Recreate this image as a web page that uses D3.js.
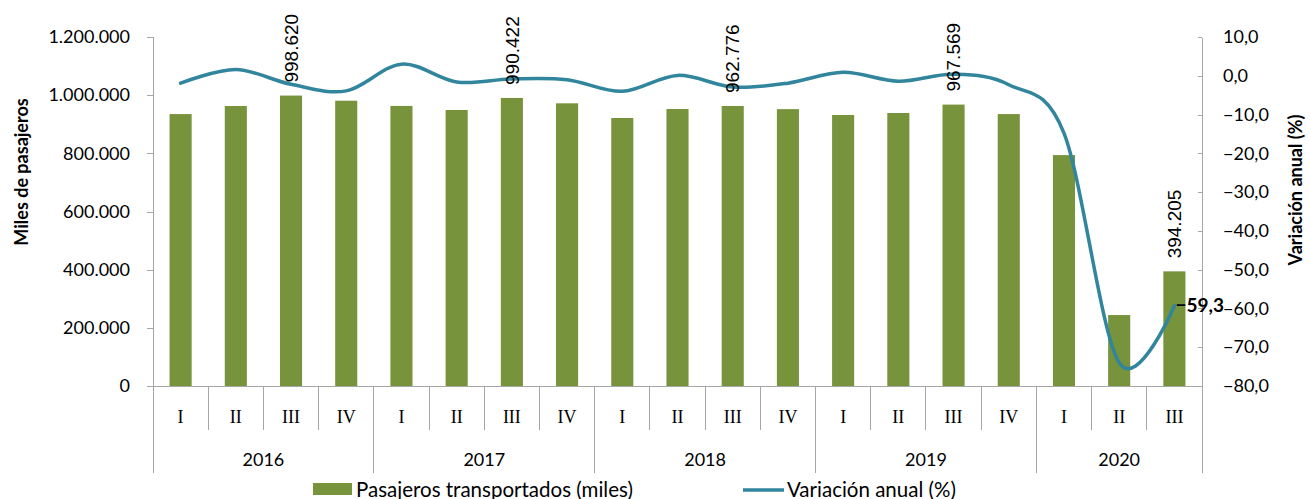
<!DOCTYPE html>
<meta charset="utf-8">
<style>
body { margin: 0; background: #fff; }
svg { display: block; }
.num { font-family: Lato, "Open Sans", sans-serif; font-size: 18px; fill: #000; }
.leyenda { font-family: Lato, "Open Sans", sans-serif; font-size: 20.5px; fill: #000; }
.trim { font-family: "Liberation Serif", serif; font-size: 18px; fill: #000; }
.titulo { font-family: Lato, sans-serif; font-size: 18px; font-weight: bold; fill: #000; }
.etiqueta { font-family: "Liberation Sans", sans-serif; font-size: 19px; fill: #000; }
.eje { stroke: #a6a6a6; stroke-width: 1; shape-rendering: crispEdges; }
</style>
<svg width="1310" height="499"></svg>
<script src="https://cdnjs.cloudflare.com/ajax/libs/d3/7.8.5/d3.min.js"></script>
<script>

// trimestres y años
var trimestres = ["I","II","III","IV","I","II","III","IV","I","II","III","IV","I","II","III","IV","I","II","III"];
var anios = ["2016","2017","2018","2019","2020"];
var trimPorAnio = [4, 4, 4, 4, 3];

// pasajeros transportados (miles)
var pasajeros = [935000, 962700, 998620, 981000, 963000, 949000, 990422, 972000, 921500, 952400,
                 962776, 952000, 931800, 938700, 967569, 935000, 794000, 244000, 394205];
// variación anual (%)
var variacion = [-1.9, 1.6, -2.2, -3.9, 3.0, -1.6, -0.8, -1.0, -4.0, 0.1,
                 -2.9, -1.9, 0.9, -1.4, 0.4, -2.3, -14.8, -74.0, -59.3];
// trimestres con etiqueta de valor
var conEtiqueta = [2, 6, 10, 14, 18];

var ticksIzq = [0, 200000, 400000, 600000, 800000, 1000000, 1200000];
var ticksDer = [10, 0, -10, -20, -30, -40, -50, -60, -70, -80];

var svg = d3.select("svg");
var x0 = 153, x1 = 1202, yTop = 37, yBase = 386;

var x = d3.scaleBand()
    .domain(d3.range(trimestres.length))
    .range([x0, x1])
    .paddingInner(0.6)
    .paddingOuter(0.3);
var xb = d3.scaleBand().domain(d3.range(trimestres.length)).range([x0, x1]);

var y = d3.scaleLinear().domain([0, 1200000]).range([yBase, yTop]);
var y2 = d3.scaleLinear().domain([-80, 10]).range([yBase, yTop]);

var loc = d3.formatLocale({decimal: ",", thousands: ".", grouping: [3], currency: ["", ""]});
var fmtN = loc.format(",.0f");
var fmtP = loc.format(",.1f");

// barras
svg.append("g").selectAll("rect")
    .data(pasajeros)
  .enter().append("rect")
    .attr("x", function(d, i) { return x(i); })
    .attr("width", x.bandwidth())
    .attr("y", function(d) { return y(d); })
    .attr("height", function(d) { return yBase - y(d); })
    .attr("fill", "#77933c");

// ejes
var gIzq = svg.append("g").attr("transform", "translate(" + x0 + ",0)")
    .call(d3.axisLeft(y).tickValues(ticksIzq).tickSize(6).tickPadding(17).tickFormat(fmtN));
gIzq.selectAll("text").attr("class", "num");

var gDer = svg.append("g").attr("transform", "translate(" + x1 + ",0)")
    .call(d3.axisRight(y2).tickValues(ticksDer).tickSizeInner(-4).tickSizeOuter(0).tickPadding(21).tickFormat(fmtP));
gDer.selectAll("text").attr("class", "num");

svg.selectAll(".domain, .tick line").attr("class", "eje").attr("fill", "none");

// eje x
svg.append("line").attr("class", "eje")
    .attr("x1", x0).attr("x2", x1).attr("y1", yBase).attr("y2", yBase);

var limites = [0];
trimPorAnio.forEach(function(n) { limites.push(limites[limites.length - 1] + n); });

svg.append("g").selectAll("line")
    .data(d3.range(trimestres.length + 1))
  .enter().append("line")
    .attr("class", "eje")
    .attr("x1", function(i) { return i < trimestres.length ? xb(i) : x1; })
    .attr("x2", function(i) { return i < trimestres.length ? xb(i) : x1; })
    .attr("y1", yBase)
    .attr("y2", function(i) { return limites.indexOf(i) >= 0 ? 473 : 430; });

svg.append("g").selectAll("text")
    .data(trimestres)
  .enter().append("text")
    .attr("class", "trim")
    .attr("x", function(d, i) { return xb(i) + xb.bandwidth() / 2; })
    .attr("y", 417)
    .attr("dy", "0.35em")
    .attr("text-anchor", "middle")
    .text(function(d) { return d; });

svg.append("g").selectAll("text")
    .data(anios)
  .enter().append("text")
    .attr("class", "num")
    .attr("x", function(d, i) {
      var a = xb(limites[i]);
      var b = limites[i + 1] < trimestres.length ? xb(limites[i + 1]) : x1;
      return (a + b) / 2;
    })
    .attr("y", 460)
    .attr("dy", "0.35em")
    .attr("text-anchor", "middle")
    .text(function(d) { return d; });

// línea de variación (suavizada)
var linea = d3.line()
    .x(function(d, i) { return xb(i) + xb.bandwidth() / 2; })
    .y(function(d) { return y2(d); })
    .curve(d3.curveCatmullRom.alpha(0));

svg.append("path")
    .datum(variacion)
    .attr("d", linea)
    .attr("fill", "none")
    .attr("stroke", "#31859c")
    .attr("stroke-width", 3.5)
    .attr("stroke-linecap", "round");

// etiquetas de las barras
svg.append("g").selectAll("text")
    .data(conEtiqueta)
  .enter().append("text")
    .attr("class", "etiqueta")
    .attr("transform", function(i) {
      return "translate(" + (x(i) + x.bandwidth() / 2) + "," + (y(pasajeros[i]) - 13) + ") rotate(-90)";
    })
    .attr("dy", "0.35em")
    .text(function(i) { return fmtN(pasajeros[i]); });

// etiqueta último punto
var ult = variacion.length - 1;
svg.append("text")
    .attr("class", "titulo")
    .style("font-size", "19px")
    .attr("x", xb(ult) + xb.bandwidth() / 2 + 1)
    .attr("y", y2(variacion[ult]))
    .attr("dy", "0.35em")
    .text(fmtP(variacion[ult]));

// títulos de ejes
svg.append("text")
    .attr("class", "titulo")
    .attr("transform", "translate(22,172) rotate(-90)")
    .attr("dy", "0.35em")
    .attr("text-anchor", "middle")
    .text("Miles de pasajeros");

svg.append("text")
    .attr("class", "titulo")
    .attr("transform", "translate(1296,190) rotate(-90)")
    .attr("dy", "0.35em")
    .attr("text-anchor", "middle")
    .text("Variación anual (%)");

// leyenda
var ley = svg.append("g");
ley.append("rect").attr("x", 313).attr("y", 483).attr("width", 39).attr("height", 12).attr("fill", "#77933c");
ley.append("text").attr("class", "leyenda").attr("x", 356).attr("y", 497).text("Pasajeros transportados (miles)");
ley.append("line").attr("x1", 743).attr("x2", 784).attr("y1", 490).attr("y2", 490)
    .attr("stroke", "#31859c").attr("stroke-width", 3.5);
ley.append("text").attr("class", "leyenda").attr("x", 787).attr("y", 497).text("Variación anual (%)");

</script>
